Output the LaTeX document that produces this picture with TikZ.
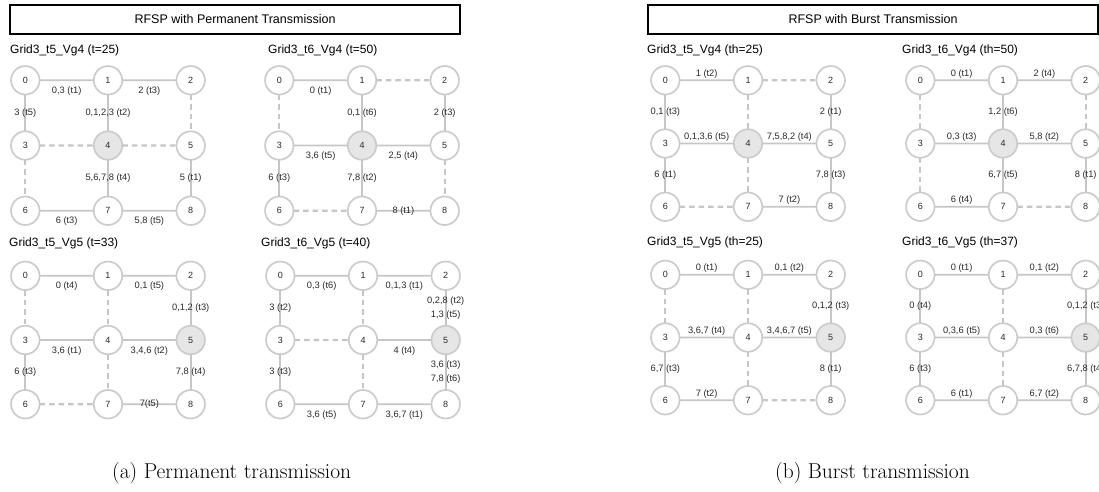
\documentclass[tikz,border=0pt]{standalone}
\usepackage{fontspec}
\setsansfont{Liberation Sans}
\usepackage{xcolor}
\usepackage{tikz}
\usetikzlibrary{matrix}
\usetikzlibrary{positioning}
\definecolor{kreis}{HTML}{CCCCCC}
\definecolor{kante}{HTML}{C6C6C6}
\definecolor{ziel}{HTML}{E6E6E6}
\definecolor{schrift}{HTML}{2A2A2A}
\tikzset{
  Knoten/.style={circle, draw=kreis, line width=1.7pt, fill=white, minimum size=28.5pt,
    inner sep=0pt, outer sep=0pt, text=schrift, font=\sffamily\fontsize{9}{10}\selectfont},
  ZKnoten/.style={fill=ziel}, % Zielknoten
  Gitter/.style={matrix of nodes, nodes={Knoten}, column sep=52.5pt, row sep=#1},
  Gitter/.default=35pt,
  Wert/.style={text=schrift, inner sep=1pt, font=\sffamily\fontsize{9.3}{14}\selectfont},
  Kante/.style={draw=kante, line width=1.8pt, nodes={Wert}}, % benutzte Kante
  LKante/.style={Kante, line width=2.3pt, dash pattern=on 5.5pt off 4pt}, % leere Kante
  unten/.style={below=4.5pt},
  oben/.style={above=0pt},
  Titel/.style={anchor=west, inner sep=0pt, font=\sffamily\fontsize{12}{14}\selectfont},
  Kasten/.style={draw=black, line width=1.4pt, minimum width=450pt, minimum height=29pt,
    font=\sffamily\fontsize{12.5}{14}\selectfont},
  Unterschrift/.style={anchor=base west, inner sep=0pt, font=\fontsize{21.5}{26}\selectfont}
}

\begin{document}
\begin{tikzpicture}[x=1pt, y=-1pt]
\useasboundingbox (0,0) rectangle (1099,491);

%Kaesten
\node[Kasten] (KP) at (235,19.5) {RFSP with Permanent Transmission};
\node[Kasten] (KB) at (873,19.5) {RFSP with Burst Transmission};

%Gitter
\matrix (A) at (108,145.5) [Gitter=35pt] { 0 & 1 & 2 \\ 3 & |[ZKnoten]| 4 & 5 \\ 6 & 7 & 8 \\ };
\matrix (B) at (362,145.5) [Gitter=35pt] { 0 & 1 & 2 \\ 3 & |[ZKnoten]| 4 & 5 \\ 6 & 7 & 8 \\ };
\matrix (C) at (108,340) [Gitter=34pt] { 0 & 1 & 2 \\ 3 & 4 & |[ZKnoten]| 5 \\ 6 & 7 & 8 \\ };
\matrix (D) at (363,340) [Gitter=34pt] { 0 & 1 & 2 \\ 3 & 4 & |[ZKnoten]| 5 \\ 6 & 7 & 8 \\ };
\matrix (E) at (748,143.5) [Gitter=33pt] { 0 & 1 & 2 \\ 3 & |[ZKnoten]| 4 & 5 \\ 6 & 7 & 8 \\ };
\matrix (F) at (1003,143.5) [Gitter=33pt] { 0 & 1 & 2 \\ 3 & |[ZKnoten]| 4 & 5 \\ 6 & 7 & 8 \\ };
\matrix (G) at (748,337.5) [Gitter=32.5pt] { 0 & 1 & 2 \\ 3 & 4 & |[ZKnoten]| 5 \\ 6 & 7 & 8 \\ };
\matrix (H) at (1003,337.5) [Gitter=32.5pt] { 0 & 1 & 2 \\ 3 & 4 & |[ZKnoten]| 5 \\ 6 & 7 & 8 \\ };

%Titel
\node[Titel] (TA) at (10,50) {Grid3\_t5\_Vg4 (t=25)};
\node[Titel] (TB) at (268,50) {Grid3\_t6\_Vg4 (t=50)};
\node[Titel] (TC) at (9,243) {Grid3\_t5\_Vg5 (t=33)};
\node[Titel] (TD) at (261,243) {Grid3\_t6\_Vg5 (t=40)};
\node[Titel] (TE) at (647,50) {Grid3\_t5\_Vg4 (th=25)};
\node[Titel] (TF) at (902,50) {Grid3\_t6\_Vg4 (th=50)};
\node[Titel] (TG) at (647,242) {Grid3\_t5\_Vg5 (th=25)};
\node[Titel] (TH) at (902,242) {Grid3\_t6\_Vg5 (th=37)};

%Kanten Grid3_t5_Vg4 (t=25)
\draw[Kante] (A-1-1) -- node[unten]{0,3 (t1)} (A-1-2);
\draw[Kante] (A-1-2) -- node[unten]{2 (t3)} (A-1-3);
\draw[Kante] (A-1-1) -- node{3 (t5)} (A-2-1);
\draw[Kante] (A-1-2) -- node{0,1,2,3 (t2)} (A-2-2);
\draw[LKante] (A-1-3) -- (A-2-3);
\draw[LKante] (A-2-1) -- (A-2-2);
\draw[LKante] (A-2-2) -- (A-2-3);
\draw[LKante] (A-2-1) -- (A-3-1);
\draw[Kante] (A-2-2) -- node{5,6,7,8 (t4)} (A-3-2);
\draw[Kante] (A-2-3) -- node{5 (t1)} (A-3-3);
\draw[Kante] (A-3-1) -- node[unten]{6 (t3)} (A-3-2);
\draw[Kante] (A-3-2) -- node[unten]{5,8 (t5)} (A-3-3);

%Kanten Grid3_t6_Vg4 (t=50)
\draw[Kante] (B-1-1) -- node[unten]{0 (t1)} (B-1-2);
\draw[LKante] (B-1-2) -- (B-1-3);
\draw[LKante] (B-1-1) -- (B-2-1);
\draw[Kante] (B-1-2) -- node{0,1 (t6)} (B-2-2);
\draw[Kante] (B-1-3) -- node{2 (t3)} (B-2-3);
\draw[Kante] (B-2-1) -- node[unten]{3,6 (t5)} (B-2-2);
\draw[Kante] (B-2-2) -- node[unten]{2,5 (t4)} (B-2-3);
\draw[Kante] (B-2-1) -- node{6 (t3)} (B-3-1);
\draw[Kante] (B-2-2) -- node{7,8 (t2)} (B-3-2);
\draw[LKante] (B-2-3) -- (B-3-3);
\draw[LKante] (B-3-1) -- (B-3-2);
\draw[Kante] (B-3-2) -- node{8 (t1)} (B-3-3);

%Kanten Grid3_t5_Vg5 (t=33)
\draw[Kante] (C-1-1) -- node[unten]{0 (t4)} (C-1-2);
\draw[Kante] (C-1-2) -- node[unten]{0,1 (t5)} (C-1-3);
\draw[LKante] (C-1-1) -- (C-2-1);
\draw[LKante] (C-1-2) -- (C-2-2);
\draw[Kante] (C-1-3) -- node{0,1,2 (t3)} (C-2-3);
\draw[Kante] (C-2-1) -- node[unten]{3,6 (t1)} (C-2-2);
\draw[Kante] (C-2-2) -- node[unten]{3,4,6 (t2)} (C-2-3);
\draw[Kante] (C-2-1) -- node{6 (t3)} (C-3-1);
\draw[LKante] (C-2-2) -- (C-3-2);
\draw[Kante] (C-2-3) -- node{7,8 (t4)} (C-3-3);
\draw[LKante] (C-3-1) -- (C-3-2);
\draw[Kante] (C-3-2) -- node{7(t5)} (C-3-3);

%Kanten Grid3_t6_Vg5 (t=40)
\draw[Kante] (D-1-1) -- node[unten]{0,3 (t6)} (D-1-2);
\draw[Kante] (D-1-2) -- node[unten]{0,1,3 (t1)} (D-1-3);
\draw[Kante] (D-1-1) -- node{3 (t2)} (D-2-1);
\draw[LKante] (D-1-2) -- (D-2-2);
\draw[Kante] (D-1-3) -- node[align=center]{0,2,8 (t2)\\1,3 (t5)} (D-2-3);
\draw[LKante] (D-2-1) -- (D-2-2);
\draw[Kante] (D-2-2) -- node[unten]{4 (t4)} (D-2-3);
\draw[Kante] (D-2-1) -- node{3 (t3)} (D-3-1);
\draw[LKante] (D-2-2) -- (D-3-2);
\draw[Kante] (D-2-3) -- node[align=center]{3,6 (t3)\\7,8 (t6)} (D-3-3);
\draw[Kante] (D-3-1) -- node[unten]{3,6 (t5)} (D-3-2);
\draw[Kante] (D-3-2) -- node[unten]{3,6,7 (t1)} (D-3-3);

%Kanten Grid3_t5_Vg4 (th=25)
\draw[Kante] (E-1-1) -- node[oben]{1 (t2)} (E-1-2);
\draw[LKante] (E-1-2) -- (E-1-3);
\draw[Kante] (E-1-1) -- node{0,1 (t3)} (E-2-1);
\draw[LKante] (E-1-2) -- (E-2-2);
\draw[Kante] (E-1-3) -- node{2 (t1)} (E-2-3);
\draw[Kante] (E-2-1) -- node[oben]{0,1,3,6 (t5)} (E-2-2);
\draw[Kante] (E-2-2) -- node[oben]{7,5,8,2 (t4)} (E-2-3);
\draw[Kante] (E-2-1) -- node{6 (t1)} (E-3-1);
\draw[LKante] (E-2-2) -- (E-3-2);
\draw[Kante] (E-2-3) -- node{7,8 (t3)} (E-3-3);
\draw[LKante] (E-3-1) -- (E-3-2);
\draw[Kante] (E-3-2) -- node[oben]{7 (t2)} (E-3-3);

%Kanten Grid3_t6_Vg4 (th=50)
\draw[Kante] (F-1-1) -- node[oben]{0 (t1)} (F-1-2);
\draw[Kante] (F-1-2) -- node[oben]{2 (t4)} (F-1-3);
\draw[LKante] (F-1-1) -- (F-2-1);
\draw[Kante] (F-1-2) -- node{1,2 (t6)} (F-2-2);
\draw[LKante] (F-1-3) -- (F-2-3);
\draw[Kante] (F-2-1) -- node[oben]{0,3 (t3)} (F-2-2);
\draw[Kante] (F-2-2) -- node[oben]{5,8 (t2)} (F-2-3);
\draw[LKante] (F-2-1) -- (F-3-1);
\draw[Kante] (F-2-2) -- node{6,7 (t5)} (F-3-2);
\draw[Kante] (F-2-3) -- node{8 (t1)} (F-3-3);
\draw[Kante] (F-3-1) -- node[oben]{6 (t4)} (F-3-2);
\draw[LKante] (F-3-2) -- (F-3-3);

%Kanten Grid3_t5_Vg5 (th=25)
\draw[Kante] (G-1-1) -- node[oben]{0 (t1)} (G-1-2);
\draw[Kante] (G-1-2) -- node[oben]{0,1 (t2)} (G-1-3);
\draw[LKante] (G-1-1) -- (G-2-1);
\draw[LKante] (G-1-2) -- (G-2-2);
\draw[Kante] (G-1-3) -- node{0,1,2 (t3)} (G-2-3);
\draw[Kante] (G-2-1) -- node[oben]{3,6,7 (t4)} (G-2-2);
\draw[Kante] (G-2-2) -- node[oben]{3,4,6,7 (t5)} (G-2-3);
\draw[Kante] (G-2-1) -- node{6,7 (t3)} (G-3-1);
\draw[LKante] (G-2-2) -- (G-3-2);
\draw[Kante] (G-2-3) -- node{8 (t1)} (G-3-3);
\draw[Kante] (G-3-1) -- node[oben]{7 (t2)} (G-3-2);
\draw[LKante] (G-3-2) -- (G-3-3);

%Kanten Grid3_t6_Vg5 (th=37)
\draw[Kante] (H-1-1) -- node[oben]{0 (t1)} (H-1-2);
\draw[Kante] (H-1-2) -- node[oben]{0,1 (t2)} (H-1-3);
\draw[Kante] (H-1-1) -- node{0 (t4)} (H-2-1);
\draw[LKante] (H-1-2) -- (H-2-2);
\draw[Kante] (H-1-3) -- node{0,1,2 (t3)} (H-2-3);
\draw[Kante] (H-2-1) -- node[oben]{0,3,6 (t5)} (H-2-2);
\draw[Kante] (H-2-2) -- node[oben]{0,3 (t6)} (H-2-3);
\draw[Kante] (H-2-1) -- node{6 (t3)} (H-3-1);
\draw[LKante] (H-2-2) -- (H-3-2);
\draw[Kante] (H-2-3) -- node{6,7,8 (t4)} (H-3-3);
\draw[Kante] (H-3-1) -- node[oben]{6 (t1)} (H-3-2);
\draw[Kante] (H-3-2) -- node[oben]{6,7 (t2)} (H-3-3);

%Unterschriften
\node[Unterschrift] (UA) at (112,478) {(a) Permanent transmission};
\node[Unterschrift] (UB) at (775,478) {(b) Burst transmission};

\end{tikzpicture}
\end{document}
